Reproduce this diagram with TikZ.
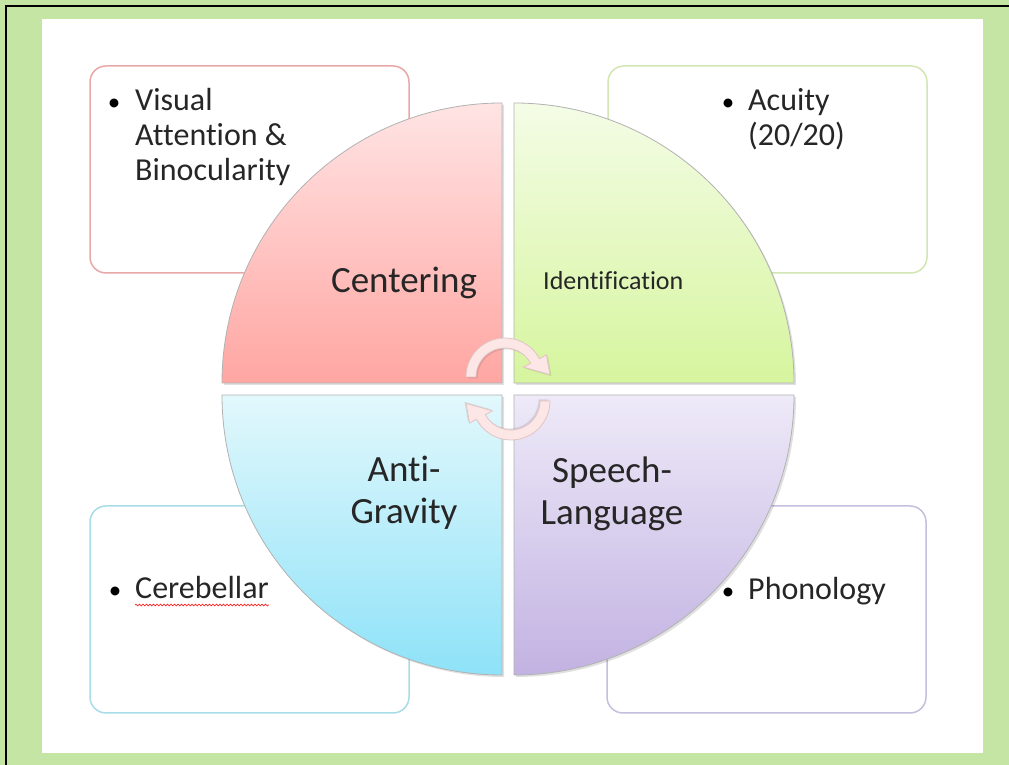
\documentclass[tikz,border=0pt]{standalone}
\usepackage{fontspec}
\setmainfont{Carlito}[Ligatures=CommonOff]
\usetikzlibrary{decorations.pathmorphing}

\definecolor{frame}{HTML}{C5E5A5}
\definecolor{cenA}{HTML}{FFE4E4}
\definecolor{cenB}{HTML}{FFA6A2}
\definecolor{ideA}{HTML}{F4FCE6}
\definecolor{ideB}{HTML}{D6F59E}
\definecolor{antA}{HTML}{E2F8FC}
\definecolor{antB}{HTML}{8EE2F8}
\definecolor{speA}{HTML}{EEEAF8}
\definecolor{speB}{HTML}{C2B2E2}
\definecolor{cenline}{HTML}{E8A8A8}
\definecolor{ideline}{HTML}{D2E6B4}
\definecolor{antline}{HTML}{A8DCE6}
\definecolor{speline}{HTML}{C6BEDE}
\definecolor{turnfill}{HTML}{FDE6E6}
\definecolor{turnline}{HTML}{E2C4C4}

\tikzset{
	quad/.style={draw=black!30, line width=0.8pt},
	card/.style={line width=1.5pt, fill=white, rounded corners=16pt},
	item/.style={inner sep=0pt, anchor=base west, text=black!85, font=\fontsize{32}{35}\selectfont},
	dot/.style={inner sep=0pt, anchor=base, font=\fontsize{25}{35}\selectfont},
	title/.style={inner sep=0pt, anchor=base, text=black!85, font=\fontsize{37}{42}\selectfont},
	turn/.style={fill=turnfill, draw=turnline, line width=0.8pt}
}

\begin{document}
\begin{tikzpicture}[x=1pt, y=1pt]
	\useasboundingbox (0,0) rectangle (1009,765);
	\fill[frame] (0,0) rectangle (1009,765);
	\draw[line width=2pt] (6,0) -- (6,759) -- (1009,759);
	\fill[white] (42,12) rectangle (983,746);

	% corner boxes
	\foreach \x/\y/\c in {90/492/cenline, 608/492/ideline, 90/52/antline, 607/52/speline}
	{
		\draw[card, draw=\c] (\x,\y) rectangle ++(319,207);
	}

	% four quarter discs
	\foreach \cx/\cy/\a/\c in {502/382/90/cen, 514/382/0/ide, 502/370/180/ant, 514/370/270/spe}
	{
		\fill[black, opacity=0.12] (\cx+2,\cy-2) -- ++(\a:280) arc[start angle=\a, delta angle=90, radius=280] -- cycle;
		\draw[quad, top color=\c A, bottom color=\c B] (\cx,\cy) -- ++(\a:280) arc[start angle=\a, delta angle=90, radius=280] -- cycle;
	}

	% turning arrows in the middle
	\foreach \r in {0,180}
	{
		\begin{scope}[rotate around={\r:(508,376)}, shift={(505,388)}]
			\fill[black, opacity=0.1, shift={(1.5,-1.5)}] (180:29) -- (180:39) arc[start angle=180, end angle=28, radius=39] -- (28:47) -- (3:45) -- (28:21) -- (28:29) arc[start angle=28, end angle=180, radius=29] -- cycle;
			\draw[turn] (180:29) -- (180:39) arc[start angle=180, end angle=28, radius=39] -- (28:47) -- (3:45) -- (28:21) -- (28:29) arc[start angle=28, end angle=180, radius=29] -- cycle;
		\end{scope}
	}

	% labels of the quarters
	\node[title] (cen) at (404,472) {Centering};
	\node[inner sep=0pt, anchor=base west, text=black!85, font=\fontsize{26}{30}\selectfont] (ide) at (543,475) {Identification};
	\node[title] (ant) at (404,283) {\begin{tabular}[t]{@{}c@{}}Anti-\\Gravity\end{tabular}};
	\node[title] (spe) at (612,282) {\begin{tabular}[t]{@{}c@{}}Speech-\\Language\end{tabular}};

	% bullet lists
	\node[dot] (vis-dot) at (114,654) {\textbullet};
	\node[item] (vis) at (135,654) {\begin{tabular}[t]{@{}l@{}}Visual\\Attention \&\\Binocularity\end{tabular}};
	\node[dot] (acu-dot) at (728,654) {\textbullet};
	\node[item] (acu) at (748,654) {\begin{tabular}[t]{@{}l@{}}Acuity\\(20/20)\end{tabular}};
	\node[dot] (cer-dot) at (115,166) {\textbullet};
	\node[item] (cer) at (135,166) {Cerebellar};
	\node[dot] (pho-dot) at (728,165) {\textbullet};
	\node[item] (pho) at (748,165) {Phonology};

	\draw[red!85, line width=0.7pt, decorate, decoration={snake, amplitude=0.9pt, segment length=3.5pt}] ([yshift=-6pt]cer.base west) -- ([yshift=-6pt]cer.base east);
\end{tikzpicture}
\end{document}
